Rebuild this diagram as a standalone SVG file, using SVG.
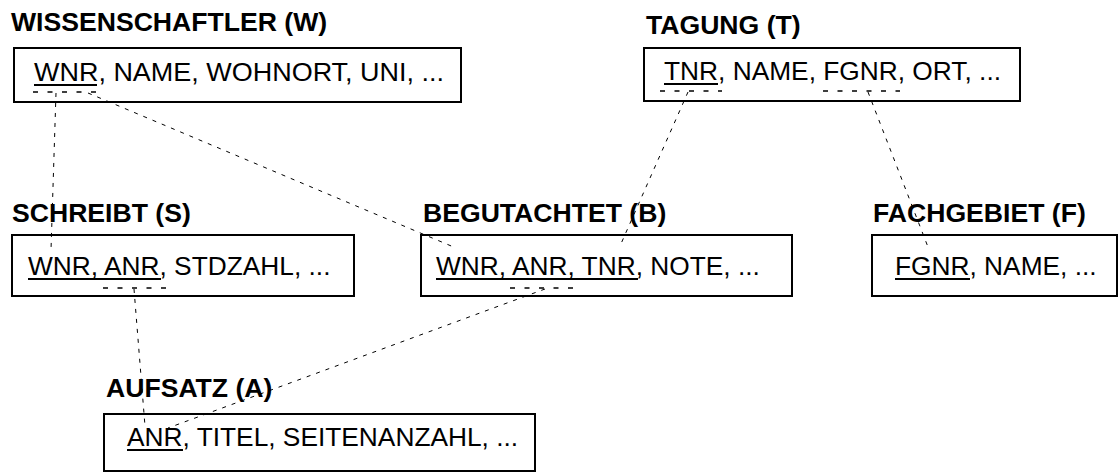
<svg xmlns="http://www.w3.org/2000/svg" width="1119" height="472" viewBox="0 0 1119 472">
<style>
.box{fill:none;stroke:#000;stroke-width:2}
.title{font-family:"Liberation Sans",Arial,sans-serif;font-weight:bold;font-size:26.6px;fill:#000}
.attr{font-family:"Liberation Sans",Arial,sans-serif;font-size:26.3px;fill:#000}
.ul{stroke:#000;stroke-width:2}
.key{stroke:#000;stroke-width:1.5;stroke-dasharray:5,9.5;fill:none}
.conn{stroke:#000;stroke-width:1;stroke-dasharray:4,6;fill:none}
</style>
<g id="connectors">
<line class="conn" x1="56" y1="93" x2="51" y2="250"/>
<line class="conn" x1="88" y1="93" x2="456" y2="248"/>
<line class="conn" x1="688" y1="92" x2="620" y2="246"/>
<line class="conn" x1="868" y1="92" x2="928" y2="247"/>
<line class="conn" x1="134" y1="289" x2="145" y2="426"/>
<line class="conn" x1="545" y1="289" x2="168" y2="428"/>
</g>
<g id="W">
<text class="title" x="11" y="31">WISSENSCHAFTLER (W)</text>
<rect class="box" x="14" y="48" width="447" height="54"/>
<text class="attr" x="34" y="81" textLength="410" lengthAdjust="spacingAndGlyphs">WNR, NAME, WOHNORT, UNI, ...</text>
<line class="ul" x1="34" y1="85" x2="97" y2="85"/>
<line class="key" x1="33" y1="92" x2="97" y2="92"/>
</g>
<g id="T">
<text class="title" x="646" y="34">TAGUNG (T)</text>
<rect class="box" x="644" y="48" width="376" height="53"/>
<text class="attr" x="664" y="80">TNR, NAME, FGNR, ORT, ...</text>
<line class="ul" x1="664" y1="84" x2="718" y2="84"/>
<line class="key" x1="660" y1="91" x2="722" y2="91"/>
<line class="key" x1="823" y1="91" x2="900" y2="91"/>
</g>
<g id="S">
<text class="title" x="12" y="222">SCHREIBT (S)</text>
<rect class="box" x="12" y="235" width="342" height="61"/>
<text class="attr" x="28" y="275">WNR, ANR, STDZAHL, ...</text>
<line class="ul" x1="28" y1="279" x2="161" y2="279"/>
<line class="key" x1="103" y1="288" x2="166" y2="288"/>
</g>
<g id="B">
<text class="title" x="423" y="222">BEGUTACHTET (B)</text>
<rect class="box" x="421" y="235" width="371" height="61"/>
<text class="attr" x="436" y="275">WNR, ANR, TNR, NOTE, ...</text>
<line class="ul" x1="436" y1="279" x2="638" y2="279"/>
<line class="key" x1="510" y1="288" x2="574" y2="288"/>
</g>
<g id="F">
<text class="title" x="873" y="222">FACHGEBIET (F)</text>
<rect class="box" x="872" y="235" width="245" height="61"/>
<text class="attr" x="895" y="275">FGNR, NAME, ...</text>
<line class="ul" x1="895" y1="279" x2="970" y2="279"/>
</g>
<g id="A">
<text class="title" x="106" y="397">AUFSATZ (A)</text>
<rect class="box" x="104" y="414" width="431" height="57"/>
<text class="attr" x="127" y="446">ANR, TITEL, SEITENANZAHL, ...</text>
<line class="ul" x1="127" y1="450" x2="183" y2="450"/>
</g>
</svg>
